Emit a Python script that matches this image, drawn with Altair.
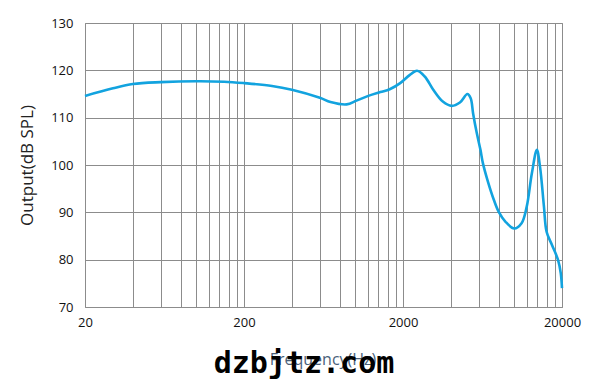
import altair as alt
import pandas as pd

freq = [20, 30, 40, 60, 100, 150, 200, 300, 400, 600, 700, 885, 1020, 1210, 1440,
        1650, 1920, 2200, 2450, 2740, 3100, 3560, 4050, 4560, 5080, 5330,
        5520, 5800, 6140, 6360, 6840, 7460, 8000, 8830, 10000, 11140, 12000, 12920,
        13900, 14550, 15400, 16000, 17300, 18900, 19650, 20000]
spl = [114.6, 116.2, 117.1, 117.5, 117.7, 117.6, 117.3, 116.7, 115.9, 114.2, 113.3, 112.8, 113.6, 114.6, 115.4,
       116.0, 117.3, 119.0, 119.9, 118.7, 115.9, 113.4, 112.5, 113.2, 115.0, 114.1,
       110.9, 107.0, 103.2, 100.4, 96.5, 92.6, 90.1, 88.0, 86.6, 87.7, 91.2, 98.2,
       103.2, 99.6, 91.2, 85.9, 83.1, 79.9, 77.1, 74.0]

grid_x = [20, 40, 60, 80, 100, 120, 140, 160, 180,
          200, 400, 600, 800, 1000, 1200, 1400, 1600, 1800,
          2000, 4000, 6000, 8000, 10000, 12000, 14000, 16000, 18000, 20000]
label_x = [20, 200, 2000, 20000]
y_ticks = [70, 80, 90, 100, 110, 120, 130]

x_title = "Frequency(Hz)"
y_title = "Output(dB SPL)"
watermark = "dzbjtz.com"

df = pd.DataFrame({"f": freq, "spl": spl})

lab_expr = "(" + " || ".join(f"datum.value == {v}" for v in label_x) + ") ? format(datum.value, 'd') : ''"

base = alt.Chart(df).mark_line(
    color="#12a3df", strokeWidth=2.6, interpolate="catmull-rom"
).encode(
    x=alt.X("f:Q",
            scale=alt.Scale(type="log", domain=[20, 20000], nice=False),
            axis=alt.Axis(values=grid_x, labelExpr=lab_expr, title=None,
                          grid=True, gridColor="#8c8c8c", gridWidth=1, gridOpacity=1,
                          ticks=False, domain=False, labelPadding=9,
                          labelFont="Open Sans", labelFontSize=13, labelColor="#111",
                          labelFlush=False, labelOverlap=False)),
    y=alt.Y("spl:Q",
            scale=alt.Scale(domain=[70, 130], nice=False, zero=False),
            axis=alt.Axis(values=y_ticks, title=y_title, format="d",
                          grid=True, gridColor="#8c8c8c", gridWidth=1, gridOpacity=1,
                          ticks=False, domain=False, labelPadding=12,
                          labelFont="Open Sans", labelFontSize=13, labelColor="#111",
                          titleFont="Open Sans", titleFontSize=17, titleFontWeight="normal",
                          titleColor="#222", titlePadding=14)),
)

xt = alt.Chart(pd.DataFrame({"t": [x_title]})).mark_text(
    font="Open Sans", fontSize=16, color="#4a5f7a", baseline="alphabetic", align="center"
).encode(x=alt.value(238), y=alt.value(342), text="t:N")

wm = alt.Chart(pd.DataFrame({"t": [watermark]})).mark_text(
    font="DejaVu Sans Mono", fontSize=30, fontWeight="bold", color="#000",
    baseline="alphabetic", align="center"
).encode(x=alt.value(219), y=alt.value(350), text="t:N")

chart = alt.layer(base, xt, wm).properties(
    width=477, height=284,
    autosize=alt.AutoSizeParams(type="none"),
    padding={"left": 85, "top": 23, "right": 48, "bottom": 80},
).configure_view(stroke="#8c8c8c", strokeWidth=1)

chart.save("out.html", embed_options={"renderer": "svg", "actions": False})
